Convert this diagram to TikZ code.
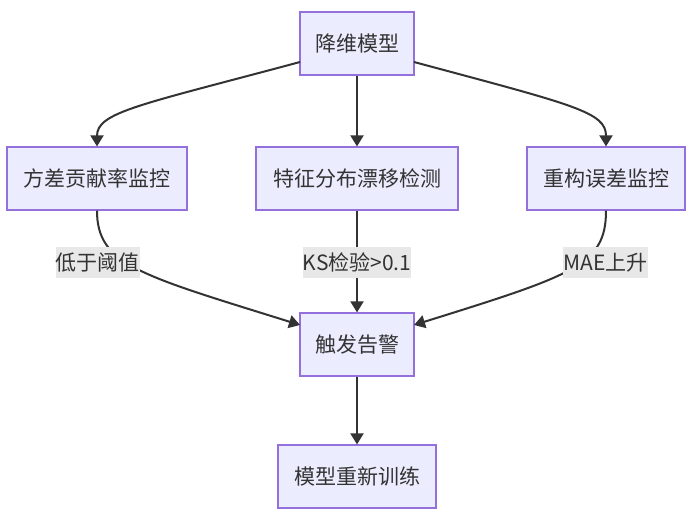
\documentclass[tikz,border=0pt]{standalone}
\usepackage{fontspec}
\setmainfont{Noto Sans CJK SC}
\usetikzlibrary{arrows.meta}
\definecolor{nodefill}{HTML}{ECECFF}
\definecolor{nodeborder}{HTML}{9370DB}
\definecolor{edgecol}{HTML}{333333}
\definecolor{labelbg}{HTML}{E8E8E8}
\tikzset{
  box/.style={draw=nodeborder, fill=nodefill, line width=1.2pt, minimum height=63pt,
    inner sep=0pt, text=edgecol, font=\fontsize{21}{24}\selectfont},
  elabel/.style={fill=labelbg, inner sep=0pt, minimum height=31pt, text=edgecol,
    font=\fontsize{21}{24}\selectfont},
  conn/.style={draw=edgecol, line width=2pt, -{Triangle[length=11pt,width=13pt]}},
}
\begin{document}
\begin{tikzpicture}[x=1pt,y=-1pt]
\useasboundingbox[fill=white] (0,0) rectangle (692,525);
\node[box, minimum width=114pt] (top) at (357,43.5) {降维模型};
\node[box, minimum width=180pt] (left) at (97,178.5) {方差贡献率监控};
\node[box, minimum width=202pt] (mid) at (357,178.5) {特征分布漂移检测};
\node[box, minimum width=158pt] (right) at (606,178.5) {重构误差监控};
\node[box, minimum width=114pt] (alarm) at (357,344.5) {触发告警};
\node[box, minimum width=158pt] (retrain) at (357,476.5) {模型重新训练};

\coordinate (tl) at (300,62);
\coordinate (tr) at (414,62);
\coordinate (al) at (300,325);
\coordinate (ar) at (414,325);

\draw[conn] (tl) .. controls (140,105) and (97,112) .. (left.north);
\draw[conn] (top) -- (mid);
\draw[conn] (tr) .. controls (574,105) and (606,112) .. (right.north);

\draw[conn] (left.south) .. controls (97,265) and (140,275) .. (al);
\draw[conn] (mid) -- (alarm);
\draw[conn] (right.south) .. controls (606,265) and (574,275) .. (ar);
\draw[conn] (alarm) -- (retrain);

\node[elabel] (l1) at (97.5,262.5) {低于阈值};
\node[elabel] (l2) at (357,262.5) {KS检验>0.1};
\node[elabel] (l3) at (605.5,262.5) {MAE上升};
\end{tikzpicture}
\end{document}
